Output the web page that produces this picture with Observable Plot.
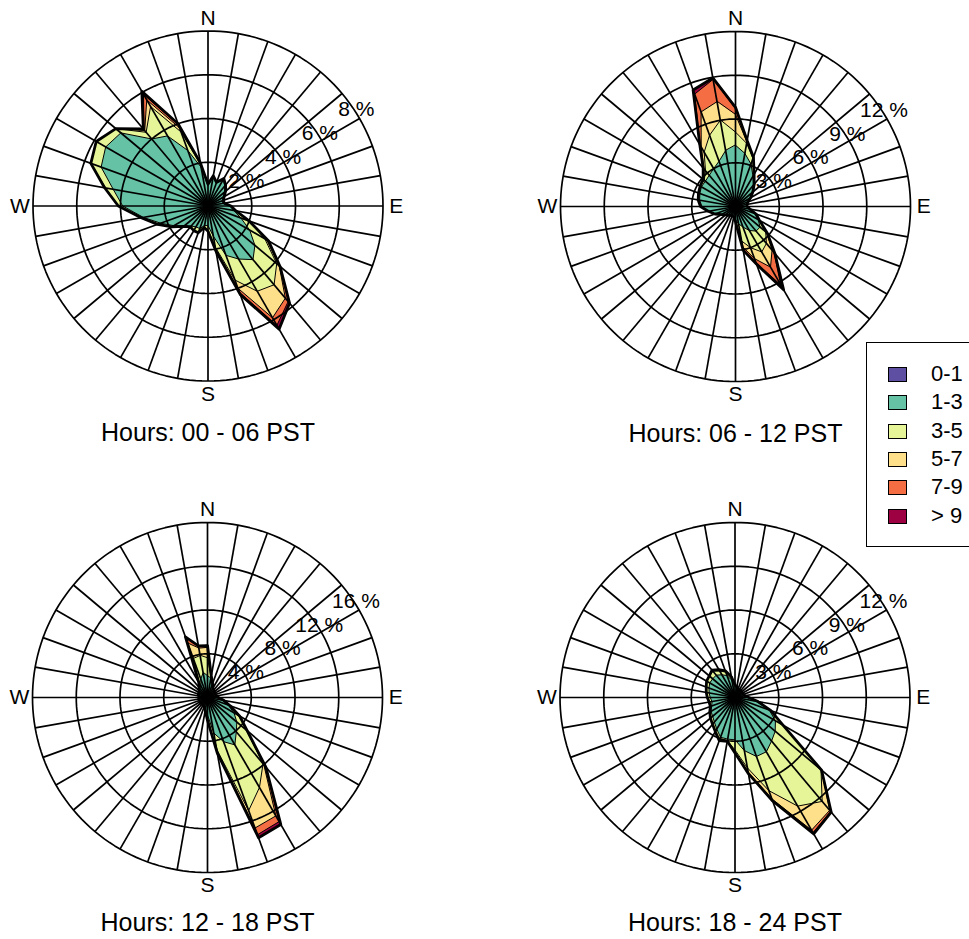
<!DOCTYPE html>
<html>
<head>
<meta charset="utf-8">
<script src="https://cdn.jsdelivr.net/npm/d3@7"></script>
<script src="https://cdn.jsdelivr.net/npm/@observablehq/plot@0.6"></script>
<style>
  html, body { margin: 0; padding: 0; background: #fff; }
  #wrap { position: relative; width: 969px; height: 939px; overflow: hidden; background: #fff;
          font-family: "Liberation Sans", Arial, Helvetica, sans-serif; }
  .panel { position: absolute; }
  .panel svg { display: block; overflow: visible; }
  #legend { position: absolute; left: 866px; top: 342px; width: 120px; height: 205px;
            border: 1.3px solid #000; background: #fff; box-sizing: border-box; }
  .lg-row { position: absolute; left: 0; height: 20px; width: 120px; }
  .lg-sw { position: absolute; left: 21px; top: 3px; width: 17px; height: 13px; border: 1.2px solid #000; }
  .lg-tx { position: absolute; left: 64px; top: -3px; font-size: 22px; line-height: 26px; color: #000; }
</style>
</head>
<body>
<div id="wrap"><div id="legend"></div></div>
<script>
// ---------- categories ----------
const directions = [0,10,20,30,40,50,60,70,80,90,100,110,120,130,140,150,160,170,
                    180,190,200,210,220,230,240,250,260,270,280,290,300,310,320,330,340,350];
const speedClasses = ["0-1", "1-3", "3-5", "5-7", "7-9", "> 9"];
const classColors = ["#5E4FA2", "#66C2A5", "#E6F598", "#FEE08B", "#F46D43", "#9E0142"];
const compassLabels = ["N", "E", "S", "W"];
const compassAngles = [0, 90, 180, 270];
const panelTitles = ["Hours: 00 - 06 PST", "Hours: 06 - 12 PST", "Hours: 12 - 18 PST", "Hours: 18 - 24 PST"];

// ---------- ring tick labels (%) ----------
const ticks_00_06 = [2, 4, 6, 8];
const ticks_06_12 = [3, 6, 9, 12];
const ticks_12_18 = [4, 8, 12, 16];
const ticks_18_24 = [3, 6, 9, 12];

// ---------- cumulative frequency (%) at the top of each speed class, per direction ----------
// Hours 00 - 06
const h00_upTo1 = [0.15,0.15,0.15,0.15,0.15,0.15,0.15,0.15,0.15,0.15,0.15,0.15,0.15,0.15,0.15,0.15,0.15,0.15,0.15,0.15,0.15,0.15,0.15,0.15,0.15,0.15,0.15,0.15,0.15,0.15,0.15,0.15,0.15,0.15,0.15,0.15];
const h00_upTo3 = [0.95,1.35,1.1,1.4,1.2,1.0,0.8,0.7,0.7,1.0,1.2,1.6,2.2,2.8,3.2,2.8,2.4,1.4,0.9,0.9,1.1,1.1,1.2,1.4,1.8,2.3,3.0,3.9,4.4,5.2,5.4,5.2,4.0,3.7,2.7,1.8];
const h00_upTo5 = [1.0,1.4,1.15,1.45,1.25,1.05,0.85,0.75,0.75,1.05,1.3,2.0,3.0,4.1,4.7,4.5,3.6,1.9,1.1,1.0,1.3,1.3,1.25,1.45,1.9,2.45,3.1,4.1,4.75,5.7,5.9,5.5,4.4,5.25,3.6,1.9];
const h00_upTo7 = [1.0,1.4,1.15,1.45,1.25,1.05,0.85,0.75,0.75,1.05,1.3,2.0,3.1,4.25,5.5,5.9,4.0,2.0,1.1,1.0,1.3,1.3,1.25,1.45,1.9,2.45,3.1,4.1,4.75,5.7,5.9,5.5,4.5,5.6,3.8,1.95];
const h00_upTo9 = [1.0,1.4,1.15,1.45,1.25,1.05,0.85,0.75,0.75,1.05,1.3,2.0,3.15,4.3,5.7,6.3,4.2,2.05,1.1,1.0,1.3,1.3,1.25,1.45,1.9,2.45,3.1,4.1,4.75,5.7,5.9,5.5,4.55,5.9,3.95,1.95];
const h00_total = [1.0,1.4,1.15,1.45,1.25,1.05,0.85,0.75,0.75,1.05,1.3,2.0,3.2,4.3,5.8,6.5,4.3,2.1,1.15,1.0,1.3,1.3,1.25,1.45,1.9,2.45,3.1,4.1,4.8,5.7,5.9,5.5,4.6,6.05,4.0,2.0];

// Hours 06 - 12
const h06_upTo1 = [0.2,0.2,0.2,0.2,0.2,0.2,0.2,0.2,0.2,0.2,0.2,0.2,0.2,0.2,0.2,0.2,0.2,0.2,0.2,0.2,0.2,0.2,0.2,0.2,0.2,0.2,0.2,0.2,0.2,0.2,0.2,0.2,0.2,0.2,0.2,0.2];
const h06_upTo3 = [4.2,3.7,3.1,2.4,1.9,1.5,1.2,0.9,0.8,0.8,1.0,1.4,1.8,2.2,2.2,1.9,1.5,1.2,0.9,0.7,0.7,0.7,0.8,0.9,1.1,1.5,1.9,2.3,2.5,2.6,2.7,2.7,2.8,3.0,3.3,3.9];
const h06_upTo5 = [5.1,4.4,3.5,2.5,1.95,1.5,1.2,0.9,0.8,0.8,1.0,1.45,1.9,2.7,3.3,3.6,3.0,2.4,1.0,0.7,0.7,0.7,0.8,0.9,1.1,1.5,1.9,2.4,2.6,2.7,2.8,2.8,3.2,4.3,5.2,6.0];
const h06_upTo7 = [6.3,4.5,3.55,2.5,1.95,1.5,1.2,0.9,0.8,0.8,1.0,1.45,1.9,2.8,3.9,4.8,3.8,2.8,1.0,0.7,0.7,0.7,0.8,0.9,1.1,1.5,1.9,2.4,2.6,2.7,2.8,2.8,3.35,4.7,6.9,7.3];
const h06_upTo9 = [6.7,4.6,3.55,2.5,1.95,1.5,1.2,0.9,0.8,0.8,1.0,1.45,1.9,2.85,4.1,6.2,4.1,3.0,1.05,0.7,0.7,0.7,0.8,0.9,1.1,1.5,1.9,2.4,2.6,2.7,2.8,2.85,3.4,4.85,8.2,8.85];
const h06_total = [6.8,4.6,3.6,2.55,2.0,1.55,1.2,0.9,0.8,0.8,1.0,1.5,1.9,2.85,4.2,6.6,4.2,3.05,1.05,0.7,0.7,0.7,0.8,0.9,1.1,1.5,1.9,2.4,2.6,2.7,2.8,2.9,3.45,4.9,8.5,8.95];

// Hours 12 - 18
const h12_upTo1 = [0.2,0.2,0.2,0.2,0.2,0.2,0.2,0.2,0.2,0.2,0.2,0.2,0.2,0.2,0.2,0.2,0.2,0.2,0.2,0.2,0.2,0.2,0.2,0.2,0.2,0.2,0.2,0.2,0.2,0.2,0.2,0.2,0.2,0.2,0.2,0.2];
const h12_upTo3 = [2.0,1.8,1.3,1.0,0.9,0.8,0.8,0.8,0.8,1.0,1.4,2.0,2.8,3.5,4.1,5.0,4.3,3.3,1.6,1.1,0.9,0.8,0.8,0.8,0.8,0.8,0.8,0.8,0.8,0.9,0.9,1.0,1.1,1.2,1.8,2.3];
const h12_upTo5 = [3.6,1.9,1.35,1.0,0.9,0.8,0.8,0.8,0.8,1.0,1.5,2.2,3.3,4.6,7.9,9.5,11.0,4.8,2.0,1.2,0.9,0.8,0.8,0.8,0.8,0.8,0.8,0.8,0.8,0.9,0.9,1.0,1.15,1.5,3.8,3.9];
const h12_upTo7 = [4.55,1.95,1.35,1.0,0.9,0.8,0.8,0.8,0.8,1.0,1.5,2.2,3.35,4.7,8.0,12.5,12.7,5.0,2.05,1.2,0.9,0.8,0.8,0.8,0.8,0.8,0.8,0.8,0.8,0.9,0.9,1.0,1.15,1.6,5.3,4.6];
const h12_upTo9 = [4.7,1.95,1.35,1.0,0.9,0.8,0.8,0.8,0.8,1.0,1.5,2.2,3.35,4.7,8.25,13.1,13.35,5.1,2.05,1.2,0.9,0.8,0.8,0.8,0.8,0.8,0.8,0.8,0.8,0.9,0.9,1.0,1.15,1.6,5.8,4.75];
const h12_total = [4.75,2.0,1.35,1.0,0.9,0.8,0.8,0.8,0.8,1.0,1.5,2.2,3.4,4.75,8.3,13.4,13.65,5.15,2.1,1.2,0.9,0.8,0.8,0.8,0.8,0.8,0.8,0.8,0.8,0.9,0.9,1.0,1.2,1.6,5.9,4.8];

// Hours 18 - 24
const h18_upTo1 = [0.2,0.2,0.2,0.2,0.2,0.2,0.2,0.2,0.2,0.2,0.2,0.2,0.2,0.2,0.2,0.2,0.2,0.2,0.2,0.2,0.2,0.2,0.2,0.2,0.2,0.2,0.2,0.2,0.2,0.2,0.2,0.2,0.2,0.2,0.2,0.2];
const h18_upTo3 = [0.8,0.7,0.6,0.6,0.6,0.6,0.6,0.6,0.7,0.9,1.5,2.5,3.2,3.6,3.9,4.3,4.3,3.7,2.9,2.9,2.9,2.5,2.2,2.0,1.9,1.7,1.6,1.7,1.8,1.9,2.0,2.0,2.0,1.8,1.6,1.2];
const h18_upTo5 = [0.85,0.75,0.65,0.6,0.6,0.6,0.6,0.6,0.7,0.95,1.6,2.6,3.8,7.7,9.3,8.6,6.8,4.9,3.6,3.0,3.1,2.7,2.4,2.2,2.0,1.8,1.8,1.9,2.0,2.1,2.25,2.3,2.35,2.1,1.85,1.4];
const h18_upTo7 = [0.85,0.75,0.65,0.6,0.6,0.6,0.6,0.6,0.7,0.95,1.6,2.6,3.8,7.75,10.1,10.5,7.4,5.2,3.75,3.05,3.15,2.7,2.4,2.2,2.0,1.8,1.8,1.9,2.0,2.1,2.25,2.3,2.4,2.15,1.9,1.4];
const h18_upTo9 = [0.85,0.75,0.65,0.6,0.6,0.6,0.6,0.6,0.7,0.95,1.6,2.6,3.8,7.75,10.2,10.7,7.5,5.25,3.8,3.05,3.15,2.7,2.4,2.2,2.0,1.8,1.8,1.9,2.0,2.1,2.25,2.3,2.43,2.2,1.95,1.45];
const h18_total = [0.85,0.75,0.65,0.6,0.6,0.6,0.6,0.6,0.7,0.95,1.6,2.6,3.8,7.75,10.26,10.8,7.55,5.3,3.8,3.05,3.15,2.7,2.4,2.2,2.0,1.8,1.8,1.9,2.0,2.1,2.25,2.3,2.45,2.2,1.95,1.45];

// ---------- assemble (built from the named arrays above) ----------
const panels = [
  {title: panelTitles[0], ticks: ticks_00_06, cums: [h00_upTo1, h00_upTo3, h00_upTo5, h00_upTo7, h00_upTo9, h00_total]},
  {title: panelTitles[1], ticks: ticks_06_12, cums: [h06_upTo1, h06_upTo3, h06_upTo5, h06_upTo7, h06_upTo9, h06_total]},
  {title: panelTitles[2], ticks: ticks_12_18, cums: [h12_upTo1, h12_upTo3, h12_upTo5, h12_upTo7, h12_upTo9, h12_total]},
  {title: panelTitles[3], ticks: ticks_18_24, cums: [h18_upTo1, h18_upTo3, h18_upTo5, h18_upTo7, h18_upTo9, h18_total]}
];

// ---------- layout (pixels) ----------
const UNIT = 175; // outer ring radius in px
const layout = [
  {left: 0,   top: 0,   width: 480, height: 462, cx: 207.5, cy: 205.5, titleDy: 227},
  {left: 500, top: 0,   width: 469, height: 462, cx: 735,   cy: 206,   titleDy: 227},
  {left: 0,   top: 470, width: 480, height: 469, cx: 207,   cy: 697,   titleDy: 225},
  {left: 500, top: 470, width: 469, height: 469, cx: 734.5, cy: 697,   titleDy: 225}
];

const rad = d => d * Math.PI / 180;
const wrap = document.getElementById("wrap");
const FONT = '"Liberation Sans", Arial, Helvetica, sans-serif';

panels.forEach((p, pi) => {
  const L = layout[pi];
  const max = p.ticks[p.ticks.length - 1];
  const polar = (deg, v) => ({x: v / max * Math.sin(rad(deg)), y: v / max * Math.cos(rad(deg))});

  const marks = [];
  // stacked class polygons, outermost first
  for (let k = p.cums.length - 1; k >= 0; k--) {
    const poly = directions.map((d, i) => polar(d, p.cums[k][i]));
    marks.push(Plot.line(poly, {x: "x", y: "y", curve: "linear-closed",
      fill: classColors[k], stroke: "#000", strokeWidth: 1.0}));
  }
  // thick outline of the total
  const outer = directions.map((d, i) => polar(d, p.cums[p.cums.length - 1][i]));
  marks.push(Plot.line(outer, {x: "x", y: "y", curve: "linear-closed", fill: "none",
    stroke: "#000", strokeWidth: 2.8}));

  // concentric rings at the tick values
  const ringAngles = d3.range(0, 360, 2);
  p.ticks.forEach(t => {
    marks.push(Plot.line(ringAngles.map(a => polar(a, t)), {x: "x", y: "y",
      curve: "linear-closed", stroke: "#000", strokeWidth: 1.7, fill: "none"}));
  });
  // spokes
  marks.push(Plot.link(directions, {
    x1: () => 0, y1: () => 0,
    x2: d => Math.sin(rad(d)), y2: d => Math.cos(rad(d)),
    stroke: "#000", strokeWidth: 1.7
  }));
  // compass letters
  marks.push(Plot.text(compassLabels, {
    x: (d, i) => 1.075 * Math.sin(rad(compassAngles[i])),
    y: (d, i) => 1.075 * Math.cos(rad(compassAngles[i])),
    text: d => d, fontSize: 21, fill: "#000"
  }));
  // ring labels
  marks.push(Plot.text(p.ticks, {
    x: t => (t / max + 2 / UNIT) * Math.sin(rad(57)),
    y: t => (t / max + 2 / UNIT) * Math.cos(rad(57)),
    text: t => t + " %", fontSize: 21, fill: "#000"
  }));
  // panel title
  marks.push(Plot.text([p.title], {
    x: () => 0, y: () => -L.titleDy / UNIT, text: d => d, fontSize: 25, fill: "#000"
  }));

  const chart = Plot.plot({
    width: L.width, height: L.height,
    marginTop: 0, marginRight: 0, marginBottom: 0, marginLeft: 0,
    x: {domain: [(L.left - L.cx) / UNIT, (L.left + L.width - L.cx) / UNIT], range: [0, L.width], axis: null},
    y: {domain: [(L.cy - (L.top + L.height)) / UNIT, (L.cy - L.top) / UNIT], range: [L.height, 0], axis: null},
    style: {fontFamily: FONT, background: "transparent", color: "#000"},
    marks
  });
  const div = document.createElement("div");
  div.className = "panel";
  div.style.left = L.left + "px";
  div.style.top = L.top + "px";
  div.appendChild(chart);
  wrap.insertBefore(div, document.getElementById("legend"));
});

// ---------- legend ----------
const legend = document.getElementById("legend");
speedClasses.forEach((c, i) => {
  const row = document.createElement("div");
  row.className = "lg-row";
  row.style.top = (21 + i * 28.3) + "px";
  row.innerHTML = `<div class="lg-sw" style="background:${classColors[i]}"></div><div class="lg-tx">${c}</div>`;
  legend.appendChild(row);
});
</script>
</body>
</html>
